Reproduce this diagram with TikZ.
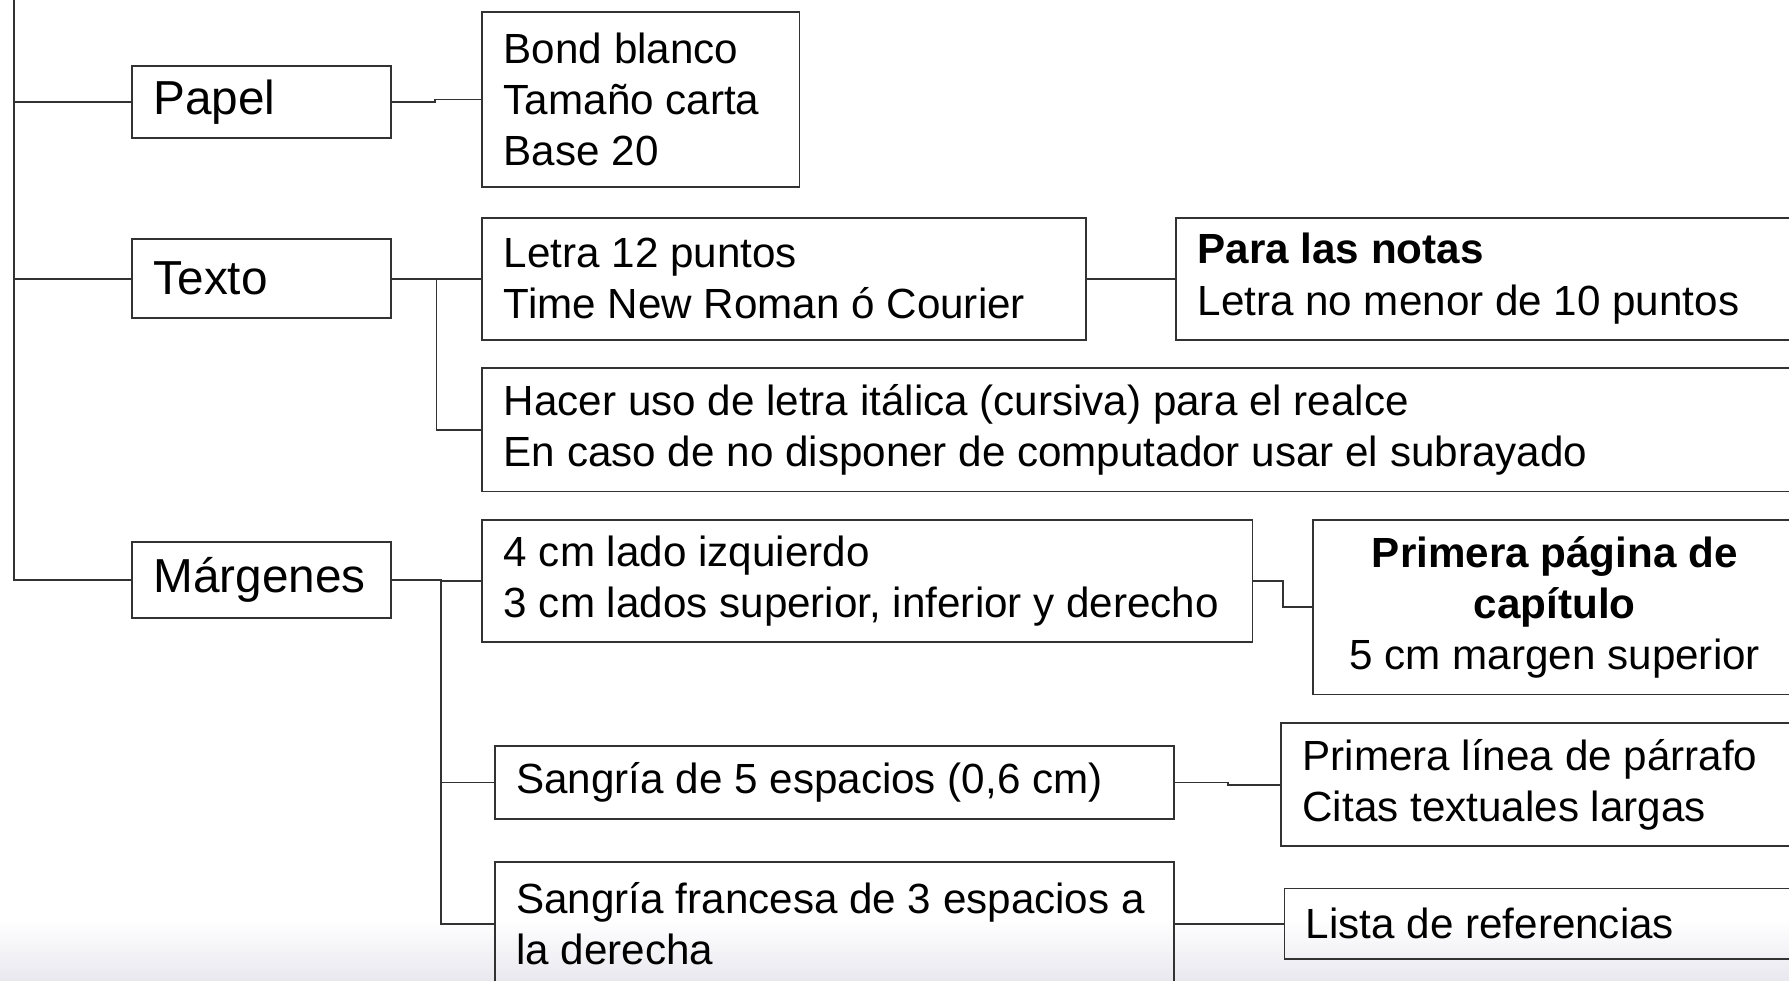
\documentclass[tikz,border=0pt]{standalone}
\usepackage{fontspec}
\setmainfont{Liberation Sans}
\definecolor{linecol}{RGB}{50,50,50}
\definecolor{bandcol}{RGB}{233,232,239}
\begin{document}
\begin{tikzpicture}[x=0.33pt,y=-0.33pt,
  line/.style={draw=linecol, line width=0.5pt},
  bx/.style 2 args={draw=linecol, line width=0.5pt, rectangle, anchor=north west,
    minimum width=#1*0.33pt, minimum height=#2*0.33pt, inner sep=0pt},
  txt/.style={anchor=west, inner sep=0pt, align=left,
    font=\fontsize{12.2}{14.85}\selectfont},
  big/.style={font=\fontsize{13.8}{16}\selectfont}]
\useasboundingbox (0,0) rectangle (1568,859);
\clip (0,0) rectangle (1568,859);
% bottom band
\shade[top color=white, bottom color=bandcol] (0,806) rectangle (1568,859);
% boxes
\node[bx={227}{63}] (papel) at (115,57) {};
\node[bx={278}{153}] (bond) at (422,10) {};
\node[bx={227}{69}] (texto) at (115,209) {};
\node[bx={529}{107}] (letra) at (422,190) {};
\node[bx={570}{107}] (notas) at (1030,190) {};
\node[bx={1178}{108}] (hacer) at (422,322) {};
\node[bx={227}{67}] (marg) at (115,474) {};
\node[bx={675}{107}] (cuatro) at (422,455) {};
\node[bx={424}{153}] (prim) at (1150,455) {};
\node[bx={595}{64}] (sang) at (433,653) {};
\node[bx={478}{108}] (linea) at (1122,633) {};
\node[bx={595}{108}] (franc) at (433,755) {};
\node[bx={475}{62}] (lista) at (1125,778) {};
% texts
\node[txt, big] (papelt) at ([xshift=19*0.33pt]papel.west) {Papel};
\node[txt] (bondt) at ([xshift=19*0.33pt]bond.west) {Bond blanco\\Tamaño carta\\Base 20};
\node[txt, big] (textot) at ([xshift=19*0.33pt]texto.west) {Texto};
\node[txt] (letrat) at ([xshift=19*0.33pt]letra.west) {Letra 12 puntos\\Time New Roman ó Courier};
\node[txt] (notast) at ([xshift=19*0.33pt]notas.west) {\textbf{Para las notas}\\Letra no menor de 10 puntos};
\node[txt] (hacert) at ([xshift=19*0.33pt]hacer.west) {Hacer uso de letra itálica (cursiva) para el realce\\En caso de no disponer de computador usar el subrayado};
\node[txt, big] (margt) at ([xshift=19*0.33pt]marg.west) {Márgenes};
\node[txt] (cuatrot) at ([xshift=19*0.33pt]cuatro.west) {4 cm lado izquierdo\\3 cm lados superior, inferior y derecho};
\node[txt, anchor=center, align=center] (primt) at (prim.center) {\textbf{Primera página de}\\\textbf{capítulo}\\5 cm margen superior};
\node[txt] (sangt) at ([xshift=19*0.33pt]sang.west) {Sangría de 5 espacios (0,6 cm)};
\node[txt] (lineat) at ([xshift=19*0.33pt]linea.west) {Primera línea de párrafo\\Citas textuales largas};
\node[txt] (franct) at ([xshift=19*0.33pt]franc.west) {Sangría francesa de 3 espacios a\\la derecha};
\node[txt] (listat) at ([xshift=19*0.33pt]lista.west) {Lista de referencias};
% connectors
\coordinate (spinetop) at (12,-5);
\draw[line] (spinetop) |- (marg.west);
\draw[line] (papel.west) -- (papel.west -| spinetop);
\draw[line] (texto.west) -- (texto.west -| spinetop);
\draw[line] (papel.east) -- ++(38,0) |- (bond.west);
\draw[line] (texto.east) -- (letra.west);
\draw[line] (texto.east) -- ++(39,0) |- (hacer.west);
\draw[line] (letra.east) -- (notas.west);
\draw[line] (marg.east) -- ++(43,0) |- (cuatro.west);
\draw[line] (marg.east) -- ++(43,0) |- (sang.west);
\draw[line] (marg.east) -- ++(43,0) |- (franc.west);
\draw[line] (cuatro.east) -- ++(26,0) |- (prim.west);
\draw[line] (sang.east) -- ++(47,0) |- (linea.west);
\draw[line] (franc.east) -- ++(47,0) |- (lista.west);
\end{tikzpicture}
\end{document}
